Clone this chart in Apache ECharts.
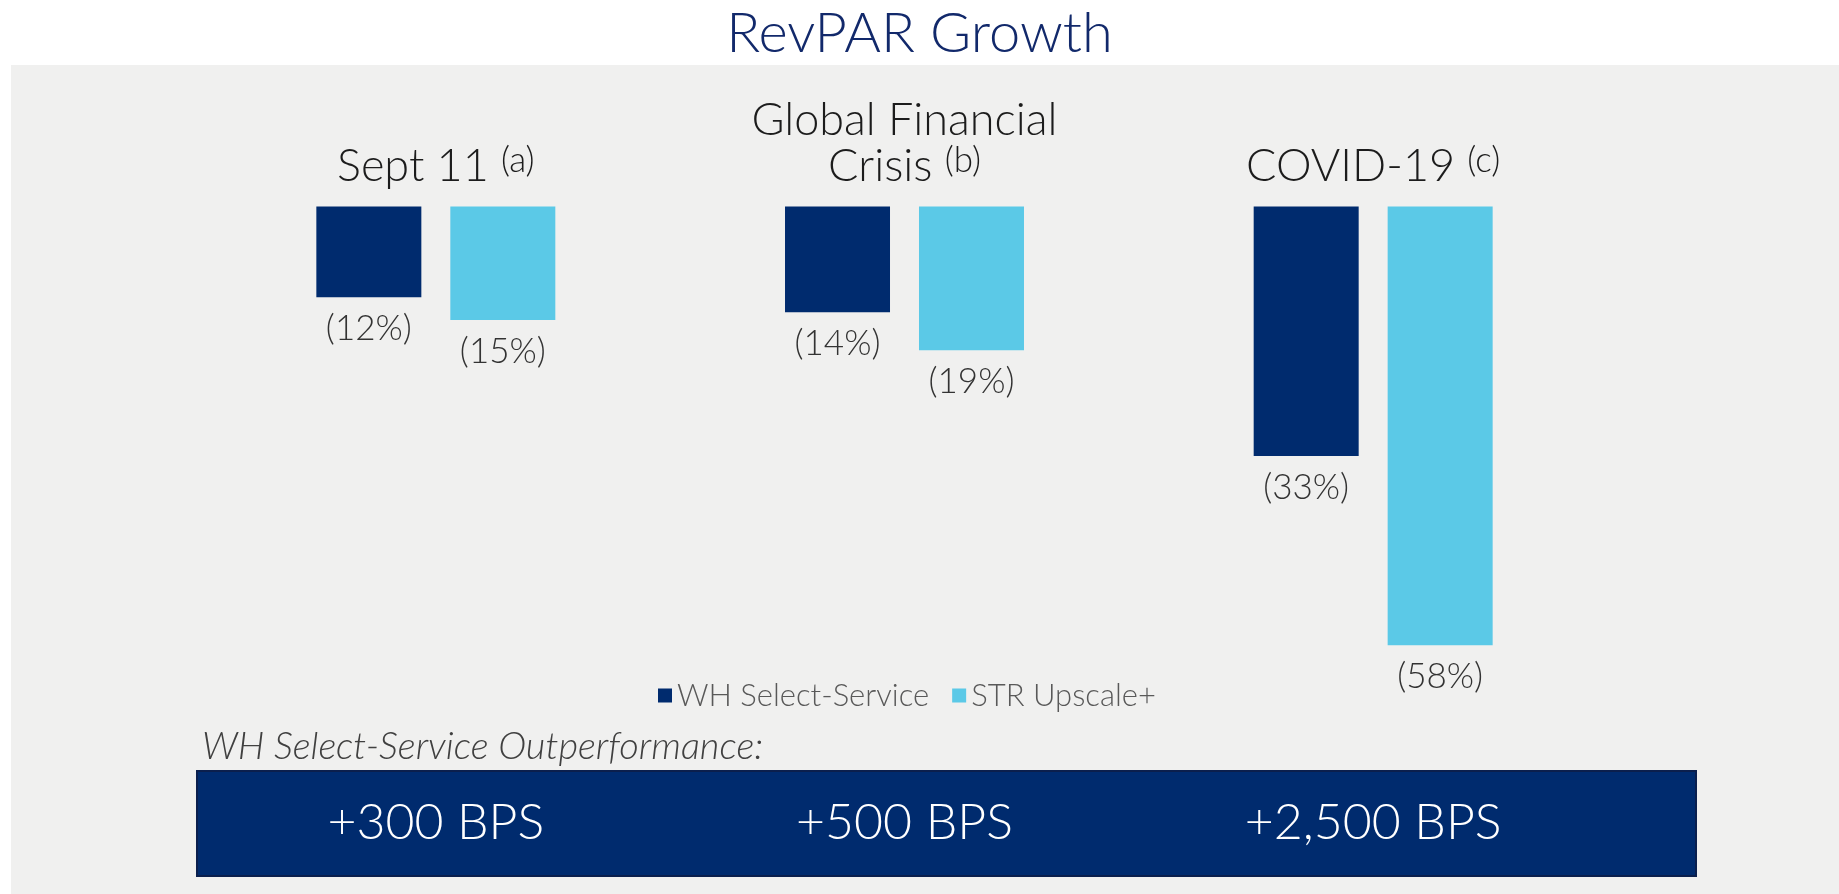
<!DOCTYPE html>
<html>
<head>
<meta charset="utf-8">
<script src="https://cdn.jsdelivr.net/npm/echarts@6/dist/echarts.min.js"></script>
<style>
html, body { margin: 0; padding: 0; background: #fff; }
#main { width: 1839px; height: 894px; }
</style>
</head>
<body>
<div id="main"></div>
<script>
var events = ['Sept 11', 'Global Financial\nCrisis', 'COVID-19'];
var notes = ['(a)', '(b)', '(c)'];
var seriesNames = ['WH Select-Service', 'STR Upscale+'];
var whSelect = [-12, -14, -33];
var strUpscale = [-15, -19, -58];
var outperform = ['+300 BPS', '+500 BPS', '+2,500 BPS'];

var FONT = 'Lato, "Noto Sans", sans-serif';

var myChart = echarts.init(document.getElementById('main'));

function pctLabel(p) {
    return '(' + Math.abs(p.value) + '%)';
}

var option = {
    animation: false,
    title: {
        text: 'RevPAR Growth',
        left: 'center',
        top: 1,
        textStyle: {
            fontFamily: FONT,
            fontSize: 56,
            fontWeight: 300,
            color: '#12296b'
        }
    },
    legend: {
        data: seriesNames,
        left: 653,
        top: 675,
        icon: 'rect',
        itemWidth: 14,
        itemHeight: 14,
        itemGap: 23,
        textStyle: {
            fontFamily: FONT,
            fontSize: 31,
            fontWeight: 300,
            color: '#595959'
        }
    },
    grid: {
        left: 201.5,
        top: 206.4,
        width: 1406,
        height: 453.9,
        outerBoundsMode: 'none'
    },
    xAxis: [
        {
            type: 'category',
            position: 'top',
            data: events,
            axisLine: { show: false },
            axisTick: { show: false },
            splitLine: { show: false },
            axisLabel: {
                interval: 0,
                margin: 17,
                formatter: function (value, idx) {
                    var lines = value.split('\n');
                    var last = lines.pop();
                    var out = lines.map(function (l) { return '{t|' + l + '}'; });
                    out.push('{t|' + last + ' }{s|' + notes[idx] + '}');
                    return out.join('\n');
                },
                rich: {
                    t: {
                        fontFamily: FONT,
                        fontSize: 45,
                        fontWeight: 300,
                        lineHeight: 46,
                        color: '#1c1c1c'
                    },
                    s: {
                        fontFamily: FONT,
                        fontSize: 35,
                        fontWeight: 300,
                        lineHeight: 26,
                        verticalAlign: 'top',
                        color: '#1c1c1c'
                    }
                }
            }
        },
        {
            type: 'category',
            position: 'bottom',
            data: events,
            axisLine: { show: false, onZero: false },
            axisTick: { show: false },
            splitLine: { show: false },
            axisLabel: {
                interval: 0,
                margin: 163,
                verticalAlign: 'middle',
                fontFamily: FONT,
                fontSize: 50,
                fontWeight: 300,
                color: '#ffffff',
                formatter: function (value, idx) {
                    return outperform[idx];
                }
            }
        }
    ],
    yAxis: {
        type: 'value',
        min: -60,
        max: 0,
        show: false,
        splitLine: { show: false }
    },
    series: [
        {
            name: seriesNames[0],
            type: 'bar',
            xAxisIndex: 0,
            data: whSelect,
            barWidth: 105,
            barGap: '27.6%',
            itemStyle: { color: '#002b6e' },
            label: {
                show: true,
                position: 'outside',
                distance: 14,
                formatter: pctLabel,
                fontFamily: FONT,
                fontSize: 35,
                fontWeight: 300,
                color: '#333333'
            }
        },
        {
            name: seriesNames[1],
            type: 'bar',
            xAxisIndex: 0,
            data: strUpscale,
            barWidth: 105,
            barGap: '27.6%',
            itemStyle: { color: '#5bc9e7' },
            label: {
                show: true,
                position: 'outside',
                distance: 14,
                formatter: pctLabel,
                fontFamily: FONT,
                fontSize: 35,
                fontWeight: 300,
                color: '#333333'
            }
        }
    ],
    graphic: [
        {
            type: 'rect',
            z: -10,
            left: 11,
            top: 65,
            shape: { width: 1828, height: 829 },
            style: { fill: '#f0f0ef' }
        },
        {
            type: 'rect',
            z: -5,
            left: 196,
            top: 770,
            shape: { width: 1499, height: 105 },
            style: { fill: '#002b6e', stroke: '#0b1f4d', lineWidth: 2 }
        },
        {
            type: 'text',
            left: 202,
            top: 728,
            style: {
                text: 'WH Select-Service Outperformance:',
                font: 'italic 300 38px ' + FONT,
                fill: '#404040'
            }
        }
    ]
};
myChart.setOption(option);
</script>
</body>
</html>
